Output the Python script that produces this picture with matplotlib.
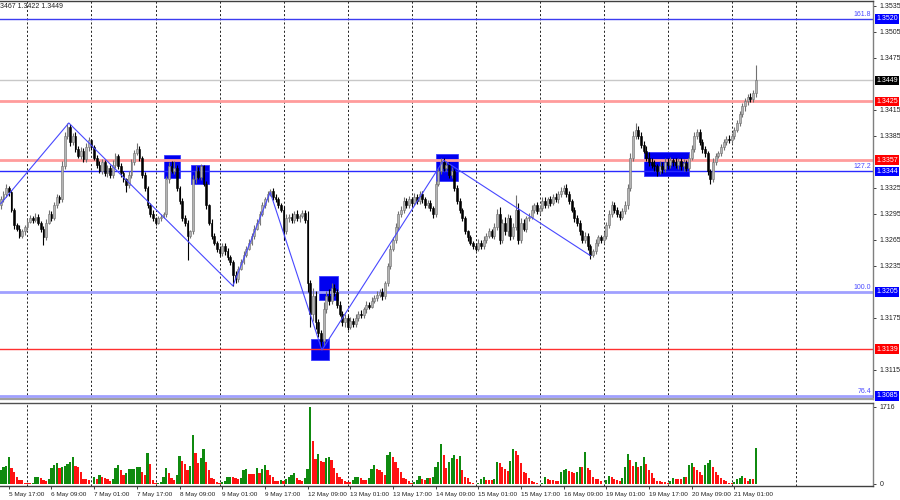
import matplotlib
matplotlib.use('Agg')
import matplotlib.pyplot as plt
import matplotlib.transforms as mtransforms
from matplotlib.patches import Rectangle

plt.rcParams['font.family'] = ['Liberation Sans', 'DejaVu Sans']

# ---------------- data (prices in pips: 3312 -> 1.3312) ----------------
first_open = 3305
closes = [
    3312, 3318, 3325, 3320, 3300, 3282, 3278, 3270, 3275, 3280, 3286, 3290,
    3288, 3292, 3285, 3278, 3268, 3285, 3295, 3290, 3305, 3315, 3312, 3350,
    3385, 3395, 3378, 3385, 3370, 3362, 3368, 3358, 3372, 3380, 3372, 3360,
    3352, 3345, 3355, 3342, 3348, 3340, 3352, 3362, 3350, 3342, 3335, 3328,
    3340, 3355, 3365, 3370, 3360, 3340, 3325, 3305, 3295, 3290, 3285, 3290,
    3292, 3295, 3335, 3350, 3345, 3348, 3325, 3310, 3290, 3285, 3270, 3275,
    3335, 3345, 3338, 3350, 3330, 3305, 3285, 3270, 3262, 3255, 3250, 3258,
    3252, 3245, 3240, 3225, 3220, 3232, 3240, 3248, 3255, 3262, 3270, 3278,
    3285, 3295, 3305, 3312, 3318, 3322, 3315, 3312, 3305, 3300, 3275, 3290,
    3292, 3288, 3295, 3290, 3293, 3296, 3288, 3215, 3180, 3200, 3170, 3158,
    3148, 3185, 3200, 3195, 3210, 3205, 3190, 3180, 3170, 3175, 3165, 3172,
    3168, 3175, 3180, 3178, 3185, 3190, 3188, 3195, 3198, 3202, 3205, 3200,
    3215, 3235, 3255, 3265, 3280, 3295, 3300, 3310, 3305, 3312, 3308, 3315,
    3310, 3318, 3312, 3305, 3308, 3302, 3295, 3330, 3345, 3355, 3348, 3352,
    3340, 3345, 3325, 3310, 3300, 3290, 3275, 3268, 3262, 3258, 3255, 3262,
    3258, 3265, 3270, 3275, 3270, 3280, 3295, 3265, 3285, 3275, 3290, 3270,
    3280, 3300, 3265, 3285, 3278, 3290, 3292, 3300, 3305, 3298, 3302, 3310,
    3305, 3312, 3308, 3315, 3312, 3318, 3322, 3325, 3318, 3310, 3300, 3290,
    3285, 3275, 3265, 3270, 3258, 3248, 3252, 3262, 3268, 3265, 3270, 3282,
    3295, 3305, 3300, 3295, 3292, 3298, 3305, 3325, 3360, 3385, 3392, 3385,
    3375, 3368, 3360, 3355, 3352, 3350, 3345, 3350, 3347, 3355, 3352, 3357,
    3355, 3352, 3356, 3350, 3354, 3348, 3360, 3370, 3385, 3390, 3378, 3370,
    3365, 3345, 3335, 3355, 3362, 3365, 3372, 3378, 3382, 3380, 3385, 3392,
    3400, 3410, 3420, 3425, 3430, 3428, 3435, 3449,
]
wick_up = [
    4, 3, 5, 2, 3, 2, 3, 4, 3, 2, 3, 4,
    3, 4, 3, 2, 3, 4, 5, 3, 4, 3, 2, 6,
    5, 5, 4, 3, 4, 3, 4, 3, 5, 4, 2, 3,
    3, 4, 3, 2, 4, 3, 5, 3, 2, 4, 3, 2,
    4, 3, 4, 7, 3, 2, 3, 2, 3, 4, 2, 3,
    3, 2, 4, 5, 6, 8, 3, 2, 3, 4, 3, 2,
    5, 6, 4, 3, 2, 3, 2, 4, 3, 2, 3, 4,
    3, 4, 3, 2, 4, 3, 3, 4, 3, 4, 3, 4,
    4, 3, 4, 3, 4, 2, 3, 3, 2, 3, 4, 5,
    3, 4, 3, 4, 2, 4, 3, 10, 4, 10, 6, 4,
    3, 8, 6, 8, 5, 4, 3, 4, 3, 4, 3, 4,
    3, 4, 3, 4, 3, 4, 3, 4, 3, 4, 3, 5,
    3, 3, 4, 3, 4, 3, 4, 5, 3, 4, 3, 4,
    3, 4, 3, 2, 3, 3, 2, 3, 4, 5, 4, 4,
    3, 4, 2, 3, 3, 2, 3, 2, 3, 2, 3, 4,
    3, 4, 3, 4, 3, 5, 6, 8, 4, 6, 5, 4,
    5, 17, 8, 5, 4, 3, 4, 5, 3, 4, 3, 5,
    4, 3, 4, 3, 4, 3, 4, 3, 4, 3, 2, 3,
    4, 3, 2, 4, 3, 2, 3, 4, 3, 3, 4, 4,
    4, 5, 4, 3, 3, 4, 5, 4, 5, 6, 8, 4,
    5, 4, 5, 6, 4, 5, 3, 6, 5, 4, 5, 4,
    3, 5, 4, 3, 4, 3, 4, 5, 4, 3, 3, 4,
    3, 3, 2, 4, 3, 3, 4, 3, 3, 4, 3, 3,
    3, 4, 3, 4, 3, 4, 3, 18,
]
wick_dn = [
    4, 3, 3, 4, 3, 4, 3, 3, 3, 4, 3, 2,
    3, 2, 3, 4, 9, 3, 2, 3, 2, 3, 4, 3,
    3, 4, 5, 3, 4, 3, 4, 3, 3, 4, 3, 3,
    4, 3, 4, 3, 4, 3, 3, 4, 3, 4, 3, 8,
    3, 3, 3, 2, 4, 3, 4, 3, 4, 3, 3, 2,
    3, 2, 3, 4, 3, 4, 3, 4, 3, 4, 28, 3,
    3, 4, 3, 4, 3, 4, 3, 4, 3, 4, 3, 4,
    4, 3, 4, 13, 5, 3, 2, 3, 3, 2, 3, 4,
    2, 3, 2, 3, 3, 2, 4, 3, 3, 3, 10, 3,
    4, 3, 4, 3, 4, 3, 4, 10, 15, 8, 8, 5,
    8, 5, 4, 5, 4, 5, 4, 3, 4, 5, 4, 3,
    3, 3, 4, 3, 3, 4, 3, 2, 3, 3, 3, 4,
    3, 3, 4, 3, 4, 3, 3, 4, 3, 3, 4, 3,
    3, 3, 4, 3, 3, 4, 5, 3, 3, 4, 3, 4,
    4, 3, 4, 3, 4, 3, 3, 4, 3, 4, 3, 3,
    4, 3, 4, 3, 3, 4, 3, 5, 4, 4, 6, 5,
    4, 3, 5, 4, 3, 4, 3, 3, 4, 3, 3, 4,
    3, 3, 4, 3, 3, 4, 3, 4, 3, 4, 3, 4,
    4, 4, 3, 4, 5, 5, 3, 3, 4, 3, 3, 4,
    3, 3, 4, 3, 4, 3, 3, 4, 4, 4, 4, 3,
    4, 3, 4, 5, 4, 5, 6, 4, 5, 4, 5, 4,
    5, 4, 5, 4, 5, 4, 4, 3, 3, 3, 4, 5,
    4, 5, 5, 3, 3, 3, 3, 3, 3, 3, 3, 3,
    3, 3, 3, 6, 4, 4, 4, 5,
]
volumes = [
    312, 386, 392, 609, 349, 275, 163, 89, 89, 30, 15, 15,
    30, 149, 163, 126, 89, 74, 104, 349, 424, 476, 364, 368,
    401, 446, 498, 594, 401, 386, 275, 104, 104, 89, 8, 163,
    104, 201, 163, 126, 104, 74, 104, 349, 424, 312, 201, 238,
    327, 330, 334, 372, 386, 275, 201, 684, 446, 89, 15, 30,
    52, 149, 349, 238, 126, 89, 201, 624, 513, 446, 312, 401,
    1092, 698, 476, 587, 773, 498, 312, 126, 104, 52, 30, 52,
    74, 149, 163, 149, 126, 111, 126, 312, 327, 223, 223, 223,
    349, 238, 327, 424, 312, 201, 149, 74, 74, 89, 74, 104,
    149, 201, 253, 126, 89, 74, 126, 327, 1709, 966, 550, 669,
    520, 498, 572, 609, 535, 349, 253, 149, 104, 74, 52, 52,
    89, 149, 163, 126, 89, 89, 126, 342, 424, 327, 312, 275,
    201, 646, 721, 594, 498, 349, 275, 126, 104, 74, 15, 52,
    89, 178, 104, 89, 126, 126, 149, 372, 498, 892, 646, 349,
    498, 572, 646, 550, 624, 312, 163, 126, 52, 15, 10, 30,
    104, 149, 89, 89, 89, 104, 498, 461, 372, 327, 297, 520,
    773, 743, 646, 476, 275, 238, 126, 74, 52, 30, 8, 15,
    149, 104, 89, 89, 74, 74, 275, 312, 327, 297, 275, 253,
    275, 372, 372, 721, 349, 312, 149, 104, 104, 74, 8, 89,
    178, 149, 104, 89, 74, 126, 372, 669, 535, 401, 498, 386,
    401, 609, 446, 312, 238, 126, 74, 74, 52, 37, 30, 74,
    126, 104, 104, 104, 149, 149, 424, 476, 372, 312, 275, 201,
    424, 461, 535, 386, 275, 201, 126, 89, 74, 30, 15, 37,
    104, 126, 178, 126, 74, 104, 104, 795,
]
vol_max_label = 1716

time_labels = ["5 May 17:00", "6 May 09:00", "7 May 01:00", "7 May 17:00",
               "8 May 09:00", "9 May 01:00", "9 May 17:00", "12 May 09:00",
               "13 May 01:00", "13 May 17:00", "14 May 09:00", "15 May 01:00",
               "15 May 17:00", "16 May 09:00", "19 May 01:00", "19 May 17:00",
               "20 May 09:00", "21 May 01:00"]
label_bars = [3, 19, 35, 51, 67, 83, 99, 115, 131, 147, 163, 179, 195, 211,
              227, 243, 259, 275]
day_start_bars = [10, 34, 58, 82, 106, 130, 154, 178, 202, 226, 250, 274, 298]

# visible price-scale labels (the others sit under the level boxes)
price_ticks = [1.3535, 1.3505, 1.3475, 1.3415, 1.3385, 1.3325,
               1.3295, 1.3265, 1.3235, 1.3175, 1.3115]

# level price, line colour, line width, label box colour, fib text
levels = [
    (1.3520, '#3c3cf0', 1.0, '#0000ff', '161.8'),
    (1.3449, '#c8c8c8', 1.0, '#000000', ''),
    (1.3425, '#ff9c9c', 2.0, '#ff0000', ''),
    (1.3357, '#ff9c9c', 2.0, '#ff0000', ''),
    (1.3344, '#2a2aff', 1.0, '#0000ff', '127.2'),
    (1.3205, '#a0a0ff', 2.0, '#0000ff', '100.0'),
    (1.3139, '#ff3030', 1.0, '#ff0000', ''),
    (1.3085, '#a0a0ff', 2.0, '#0000ff', '76.4'),
]

zigzag_bars = [0, 25.5, 87, 101, 120.4, 166, 221]
zigzag_prices = [1.3307, 1.3400, 1.3212, 1.3320, 1.3138, 1.3357, 1.3247]

# zones: bar start, bar end, price low, price high
zones = [
    (61.1, 67.1, 1.3336, 1.3363),
    (71.2, 78.0, 1.3330, 1.3352),
    (119.2, 126.4, 1.3196, 1.3223),
    (116.2, 123.0, 1.3127, 1.3151),
    (163.1, 171.4, 1.3333, 1.3364),
    (241.1, 258.0, 1.3339, 1.3367),
]
header = "3467 1.3422 1.3449"

# ---------------- derived OHLC ----------------
assert len(closes) == len(wick_up) == len(wick_dn) == len(volumes)
n = len(closes)
cl = [1 + c / 10000 for c in closes]
op = [1 + first_open / 10000] + cl[:-1]
hi = [max(o, c) + u / 10000 for o, c, u in zip(op, cl, wick_up)]
lo = [min(o, c) - d / 10000 for o, c, d in zip(op, cl, wick_dn)]
xs = list(range(n))

# ---------------- figure ----------------
W, H = 900, 500
FS = 5.0
FSX = 4.6
fig = plt.figure(figsize=(9, 5), dpi=100)
fig.patch.set_facecolor('white')
plot_w = 873 / W
ax = fig.add_axes([0, 1 - 399 / H, plot_w, 398.5 / H])
axv = fig.add_axes([0, 1 - 486 / H, plot_w, 83 / H])

XMIN, XMAX = -0.3, 327.0
ax.set_xlim(XMIN, XMAX)
axv.set_xlim(XMIN, XMAX)
ax.set_ylim(1.30815, 1.35413)
axv.set_ylim(-45, 1805)

for a in (ax, axv):
    a.set_facecolor('white')
    a.spines['left'].set_visible(False)
    a.spines['right'].set_color('#7f7f7f')
    a.spines['right'].set_linewidth(1.0)
    for d in day_start_bars:
        a.axvline(d, color='black', lw=0.6, ls=(0, (2.5, 2.5)), zorder=0.5)

ax.spines['top'].set_color('#404040')
ax.spines['top'].set_linewidth(1.0)
ax.spines['bottom'].set_color('#a0a0a0')
ax.spines['bottom'].set_linewidth(1.6)
axv.spines['top'].set_color('#505050')
axv.spines['top'].set_linewidth(1.0)
axv.spines['bottom'].set_color('#404040')
axv.spines['bottom'].set_linewidth(1.0)

# zones (background)
for b0, b1, p0, p1 in zones:
    ax.add_patch(Rectangle((b0, p0), b1 - b0, p1 - p0, facecolor='#0000f0',
                           edgecolor='#3a3aff', lw=0.6, zorder=1.5))

# level lines
trans_lab = mtransforms.blended_transform_factory(ax.transAxes, ax.transData)
for price, lc, lw, bc, fib in levels:
    ax.axhline(price, color=lc, lw=lw, zorder=1.8)
    ax.text(1.0 + 3 / 873, price, f"{price:.4f}", transform=trans_lab,
            ha='left', va='center', color='white', fontsize=FS,
            zorder=20, clip_on=False,
            bbox=dict(boxstyle='square,pad=0.18', fc=bc, ec='none'))
    if fib:
        ax.text(1.0 - 2 / 873, price + 0.00012, fib, transform=trans_lab,
                ha='right', va='bottom', color='#4a4aff', fontsize=FS,
                zorder=20)

# candles
bull_face, bull_edge, bear_col = '#b4b4b4', '#707070', '#000000'
for i in xs:
    o, c = op[i], cl[i]
    bull = c >= o
    col = bull_edge if bull else bear_col
    ax.vlines(i, lo[i], hi[i], colors=col, lw=0.8, zorder=2.5)
    h = max(abs(c - o), 0.00004)
    ax.bar(i, h, bottom=min(o, c), width=0.72,
           color=bull_face if bull else bear_col,
           edgecolor=col, linewidth=0.4, zorder=2.6)

# zigzag
ax.plot(zigzag_bars, zigzag_prices, color='#4848ff', lw=0.8, zorder=4)

# volumes
vcols = []
for i, v in enumerate(volumes):
    prev = volumes[i - 1] if i > 0 else 0
    vcols.append('#0f8a0f' if v > prev else '#ff1212')
axv.bar(xs, volumes, width=0.8, color=vcols, linewidth=0, zorder=2)

# price axis
ax.yaxis.tick_right()
ax.set_yticks(price_ticks)
ax.set_yticklabels([f"{p:.4f}" for p in price_ticks])
ax.tick_params(axis='y', length=2, width=0.6, pad=3, labelsize=FS,
               colors='#202020')
ax.set_xticks([])

axv.yaxis.tick_right()
axv.set_yticks([0, vol_max_label])
axv.set_yticklabels(['0', str(vol_max_label)])
axv.tick_params(axis='y', length=2, width=0.6, pad=3, labelsize=FS,
                colors='#202020')
axv.set_xticks(label_bars)
axv.set_xticklabels(time_labels)
axv.tick_params(axis='x', length=2.5, width=0.6, pad=1.5, labelsize=FSX,
                colors='#202020')
for t in axv.get_xticklabels():
    t.set_ha('left')

fig.text(0.0, 1 - 6.5 / H, header, ha='left', va='center', fontsize=FS,
         color='#202020')

fig.savefig('out.png', dpi=100, facecolor='white')
